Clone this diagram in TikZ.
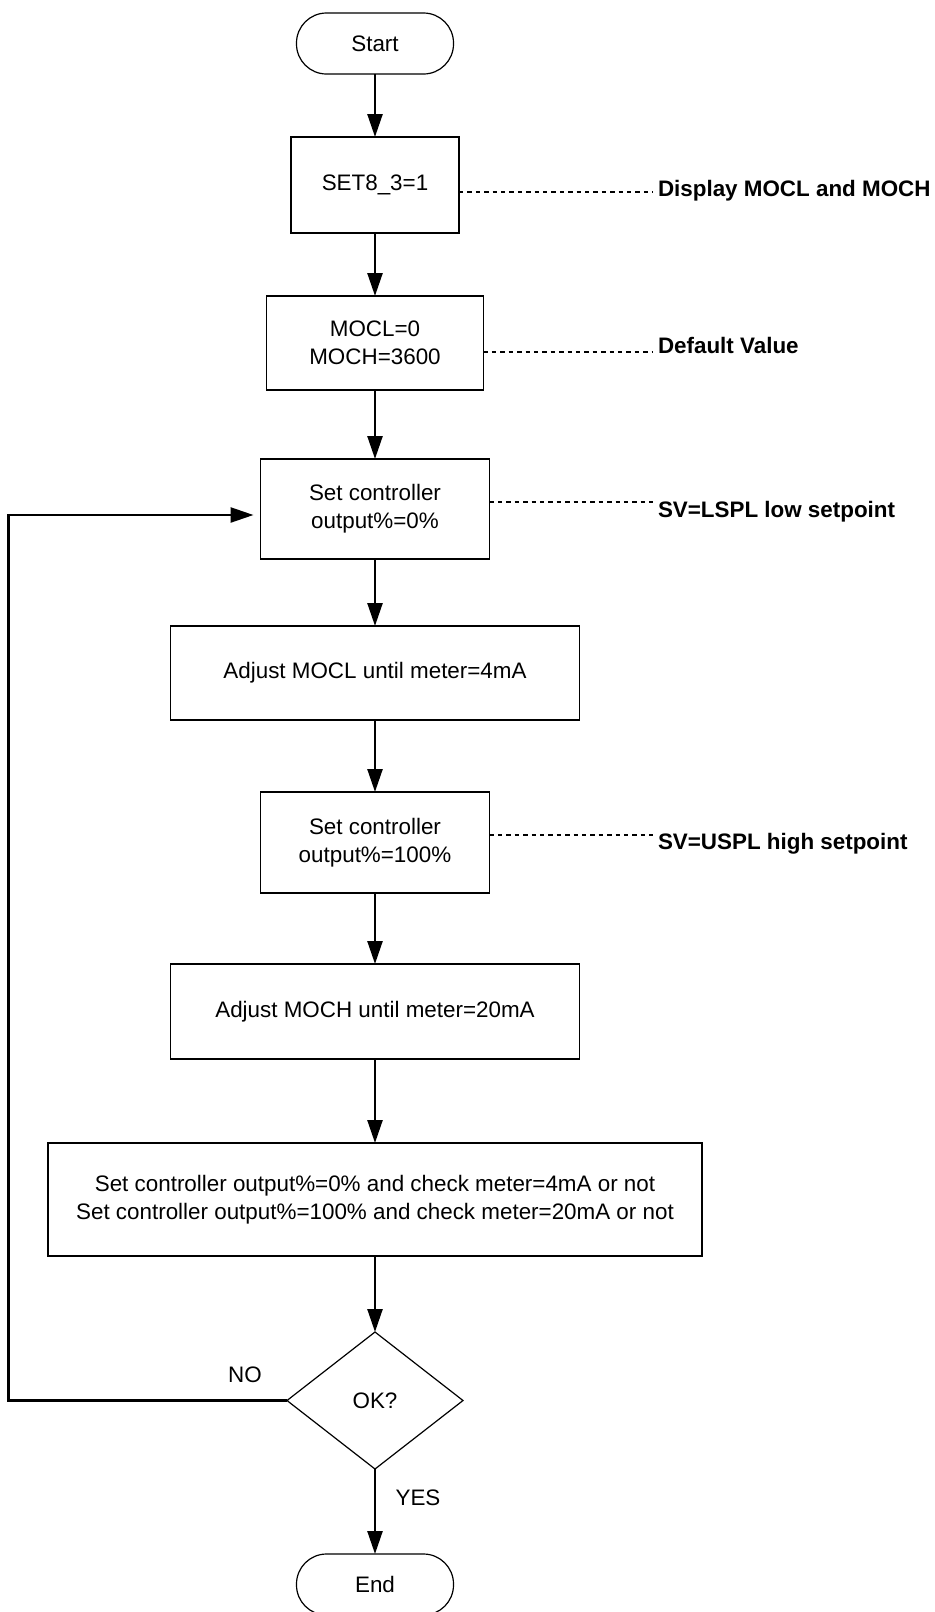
\documentclass[tikz,border=0pt]{standalone}
\usepackage{fontspec}
\setmainfont{Liberation Sans}
\usetikzlibrary{positioning,arrows.meta,shapes.geometric}
\newcommand{\flowfont}{\fontsize{11.2}{14}\selectfont}
\newcommand{\notefont}{\fontsize{11.2}{14}\selectfont\bfseries}
\tikzset{
  term/.style={rectangle, rounded corners=15pt, draw, line width=0.6pt, outer sep=0pt,
    minimum width=78.5pt, minimum height=30.5pt, font=\flowfont},
  proc/.style={rectangle, draw, line width=0.6pt, outer sep=0pt, align=center,
    inner sep=0pt, font=\flowfont},
  decision/.style={diamond, draw, line width=0.6pt, outer sep=0pt, aspect=1.285,
    minimum width=88pt, minimum height=68.5pt, inner sep=0pt, font=\flowfont},
  note/.style={anchor=west, inner sep=2.5pt, outer sep=0pt, font=\notefont},
  lbl/.style={inner sep=0pt, font=\flowfont},
  arrow/.style={-{Triangle[length=11.5pt,width=7.5pt]}, line width=1.25pt},
  leader/.style={line width=0.8pt, dash pattern=on 2.2pt off 2pt}
}
\begin{document}
\begin{tikzpicture}
  \path[use as bounding box, fill=white] (0,0) rectangle (467.5pt,-806pt);
  \node[term] (start) at (187.5pt,-21.75pt) {Start};
  \node[proc, below=31.5pt of start, minimum width=84pt, minimum height=48pt] (set8) {SET8\_3=1};
  \node[proc, below=31.5pt of set8, minimum width=108.5pt, minimum height=47pt] (mocl) {MOCL=0\\MOCH=3600};
  \node[proc, below=34.5pt of mocl, minimum width=114.5pt, minimum height=50pt] (outlow) {Set controller\\output\%=0\%};
  \node[proc, below=33.5pt of outlow, minimum width=204.5pt, minimum height=47pt] (adjlow) {Adjust MOCL until meter=4mA};
  \node[proc, below=36pt of adjlow, minimum width=114.5pt, minimum height=50.5pt] (outhigh) {Set controller\\output\%=100\%};
  \node[proc, below=35.5pt of outhigh, minimum width=204.5pt, minimum height=47.5pt] (adjhigh) {Adjust MOCH until meter=20mA};
  \node[proc, below=42pt of adjhigh, minimum width=327pt, minimum height=56.5pt] (check) {Set controller output\%=0\% and check meter=4mA or not\\Set controller output\%=100\% and check meter=20mA or not};
  \node[decision, below=38pt of check] (ok) {OK?};
  \node[term, below=42.5pt of ok] (end) {End};
  % side notes
  \node[note, right=97pt of set8, yshift=-3pt] (shownote) {Display MOCL and MOCH};
  \node[note, right=84.75pt of mocl, yshift=-1pt] (defnote) {Default Value};
  \node[note, right=81.75pt of outlow, yshift=-1.6pt] (lownote) {SV=LSPL low setpoint};
  \node[note, right=81.75pt of outhigh, yshift=-0.85pt] (highnote) {SV=USPL high setpoint};
  \draw[leader] ([yshift=-3.5pt]set8.east) -- ([yshift=-0.5pt]shownote.west);
  \draw[leader] ([yshift=-4.5pt]mocl.east) -- ([yshift=-3.5pt]defnote.west);
  \draw[leader] ([yshift=3.5pt]outlow.east) -- ([yshift=5.1pt]lownote.west);
  \draw[leader] ([yshift=3.75pt]outhigh.east) -- ([yshift=4.6pt]highnote.west);
  % flow
  \draw[arrow] (start) -- (set8);
  \draw[arrow] (set8) -- (mocl);
  \draw[arrow] (mocl) -- (outlow);
  \draw[arrow] (outlow) -- (adjlow);
  \draw[arrow] (adjlow) -- (outhigh);
  \draw[arrow] (outhigh) -- (adjhigh);
  \draw[arrow] (adjhigh) -- (check);
  \draw[arrow] (check) -- (ok);
  \draw[arrow] (ok) -- (end);
  \draw[arrow, shorten >=3.5pt] (ok.west) -- ++(-139.35pt,0) |- ([yshift=-3pt]outlow.west);
  \node[lbl] (no) at ([xshift=-21pt,yshift=12.75pt]ok.west) {NO};
  \node[lbl] (yes) at ([xshift=21.5pt,yshift=-14.5pt]ok.south) {YES};
\end{tikzpicture}
\end{document}
